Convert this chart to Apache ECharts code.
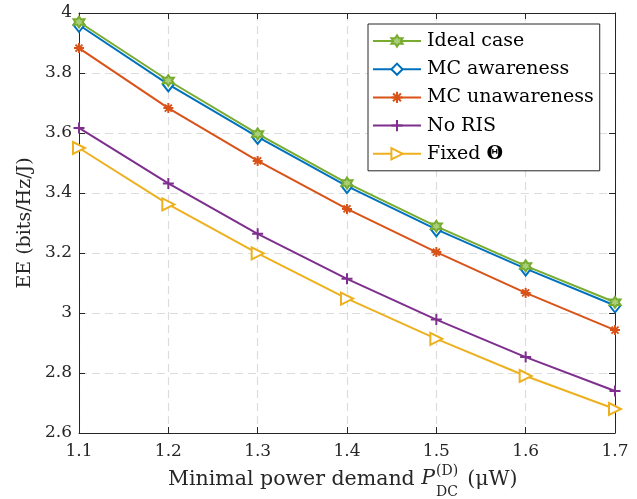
<!DOCTYPE html>
<html>
<head>
<meta charset="utf-8">
<script src="https://cdn.jsdelivr.net/npm/echarts@6/dist/echarts.min.js"></script>
<style>html,body{margin:0;padding:0;background:#fff;}#c{width:637px;height:499px;}</style>
</head>
<body>
<div id="c"></div>
<script>
var xValues = [1.1, 1.2, 1.3, 1.4, 1.5, 1.6, 1.7];
var seriesNames = ['Ideal case', 'MC awareness', 'MC unawareness', 'No RIS', 'Fixed \u0398'];
var idealCase = [3.97, 3.775, 3.597, 3.433, 3.289, 3.157, 3.036];
var mcAwareness = [3.96, 3.762, 3.587, 3.423, 3.279, 3.148, 3.025];
var mcUnawareness = [3.883, 3.683, 3.507, 3.347, 3.203, 3.067, 2.943];
var noRIS = [3.617, 3.432, 3.264, 3.114, 2.978, 2.853, 2.74];
var fixedTheta = [3.55, 3.362, 3.199, 3.048, 2.914, 2.79, 2.68];
var xTicks = [1.1, 1.2, 1.3, 1.4, 1.5, 1.6, 1.7];
var yTicks = [2.6, 2.8, 3, 3.2, 3.4, 3.6, 3.8, 4];

var FONT = '"DejaVu Serif", "Liberation Serif", serif';
var colors = ['#77AC30', '#0072BD', '#D95319', '#7E2F8E', '#EDB120'];

function starPath() {
  var p = [];
  for (var i = 0; i < 12; i++) {
    var a = -Math.PI / 2 + i * Math.PI / 6;
    var r = (i % 2 === 0) ? 1 : 0.577;
    p.push((i === 0 ? 'M' : 'L') + (r * Math.cos(a)).toFixed(3) + ',' + (r * Math.sin(a)).toFixed(3));
  }
  return 'path://' + p.join(' ') + ' Z';
}
var symbols = [
  starPath(),
  'path://M0,-1 L1,0 L0,1 L-1,0 Z',
  'path://M0,-1 L0,1 M-1,0 L1,0 M-0.7,-0.7 L0.7,0.7 M-0.7,0.7 L0.7,-0.7',
  'path://M0,-1 L0,1 M-1,0 L1,0',
  'path://M-1,-1 L1,0 L-1,1 Z'
];
var symbolSizes = [[11, 11], [11, 14], [10, 10], [11, 11], [12, 12]];
var fills = ['#a9cf78', '#ffffff', colors[2], colors[3], '#ffffff'];
var dataSets = [idealCase, mcAwareness, mcUnawareness, noRIS, fixedTheta];

var series = dataSets.map(function (vals, i) {
  return {
    name: seriesNames[i],
    type: 'line',
    xAxisIndex: 0, yAxisIndex: 0,
    data: xValues.map(function (x, j) { return [x, vals[j]]; }),
    symbol: symbols[i],
    symbolSize: symbolSizes[i],
    showAllSymbol: true,
    lineStyle: { color: colors[i], width: 2 },
    itemStyle: { color: fills[i], borderColor: colors[i], borderWidth: 2 },
    emphasis: { disabled: true },
    z: 10 - i,
    animation: false
  };
});

var grid = { left: 79, right: 22, top: 13, bottom: 66 };
var axisLineStyle = { color: '#262626', width: 1 };
var splitLine = { show: true, lineStyle: { color: '#dcdcdc', type: [8, 5], width: 1.2 } };

var chart = echarts.init(document.getElementById('c'), null, { renderer: 'canvas' });

var tickFontSize = 17;
var labelFontSize = 20.5;
var legendFontSize = 19;
var ctx = document.createElement('canvas').getContext('2d');
function tw(text, size, italic) {
  ctx.font = (italic ? 'italic ' : '') + size + 'px ' + FONT;
  return ctx.measureText(text).width;
}
var mainText = 'Minimal power demand ';
var xStart = 168, yBase = 482;
var wMain = tw(mainText, labelFontSize);
var wP = tw('P', labelFontSize, true);
var wD = tw('(D)', 14), wDC = tw('DC', 14);
var xP = xStart + wMain;
var xSub = xP + wP + 1;
var xUnit = xSub + Math.max(wD, wDC) + 9;

chart.setOption({
  backgroundColor: '#ffffff',
  animation: false,
  grid: grid,
  xAxis: [{
    type: 'value', min: 1.1, max: 1.7, interval: 0.1, position: 'bottom',
    axisLine: { show: true, onZero: false, lineStyle: axisLineStyle },
    axisTick: { show: true, inside: true, length: 6, lineStyle: axisLineStyle },
    axisLabel: { color: '#262626', fontFamily: FONT, fontSize: tickFontSize, margin: 10,
      formatter: function (v) { return v.toFixed(1); } },
    splitLine: splitLine
  }, {
    type: 'value', min: 1.1, max: 1.7, interval: 0.1, position: 'top',
    axisLine: { show: true, onZero: false, lineStyle: axisLineStyle },
    axisTick: { show: true, inside: true, length: 6, lineStyle: axisLineStyle },
    axisLabel: { show: false }, splitLine: { show: false }
  }],
  yAxis: [{
    type: 'value', min: 2.6, max: 4, interval: 0.2, position: 'left',
    name: 'EE (bits/Hz/J)', nameLocation: 'middle', nameGap: 42,
    nameTextStyle: { color: '#262626', fontFamily: FONT, fontSize: 19 },
    axisLine: { show: true, onZero: false, lineStyle: axisLineStyle },
    axisTick: { show: true, inside: true, length: 6, lineStyle: axisLineStyle },
    axisLabel: { color: '#262626', fontFamily: FONT, fontSize: tickFontSize, margin: 7,
      formatter: function (v) { return String(Math.round(v * 10) / 10); } },
    splitLine: splitLine
  }, {
    type: 'value', min: 2.6, max: 4, interval: 0.2, position: 'right',
    axisLine: { show: true, onZero: false, lineStyle: axisLineStyle },
    axisTick: { show: true, inside: true, length: 6, lineStyle: axisLineStyle },
    axisLabel: { show: false }, splitLine: { show: false }
  }],
  legend: {
    show: true, orient: 'vertical', left: 368, top: 24,
    padding: [7, 6, 7, 4],
    backgroundColor: '#ffffff',
    borderColor: '#262626', borderWidth: 1,
    itemWidth: 48, itemHeight: 14, itemGap: 8.2,
    formatter: function (name) {
      if (name.indexOf('\u0398') >= 0) return '{n|Fixed }{b|\u0398}';
      return '{n|' + name + '}';
    },
    textStyle: {
      color: '#000000', fontFamily: FONT, fontSize: legendFontSize, lineHeight: 20, padding: [0, 0, 0, 1],
      rich: {
        n: { color: '#000000', fontFamily: FONT, fontSize: legendFontSize, lineHeight: 20 },
        b: { color: '#000000', fontFamily: FONT, fontSize: legendFontSize, lineHeight: 20, fontWeight: 'bold' }
      }
    },
    data: seriesNames
  },
  graphic: [
    { type: 'text', left: xStart, top: yBase - 13, style: { text: mainText, font: labelFontSize + 'px ' + FONT, fill: '#262626' }, silent: true },
    { type: 'text', left: xP, top: yBase - 13, style: { text: 'P', font: 'italic ' + labelFontSize + 'px ' + FONT, fill: '#262626' }, silent: true },
    { type: 'text', left: xSub, top: yBase - 18, style: { text: '(D)', font: '14px ' + FONT, fill: '#262626' }, silent: true },
    { type: 'text', left: xSub, top: yBase + 3, style: { text: 'DC', font: '14px ' + FONT, fill: '#262626' }, silent: true },
    { type: 'text', left: xUnit, top: yBase - 13, style: { text: '(\u03bcW)', font: labelFontSize + 'px ' + FONT, fill: '#262626' }, silent: true }
  ],
  series: series
});
</script>
</body>
</html>
